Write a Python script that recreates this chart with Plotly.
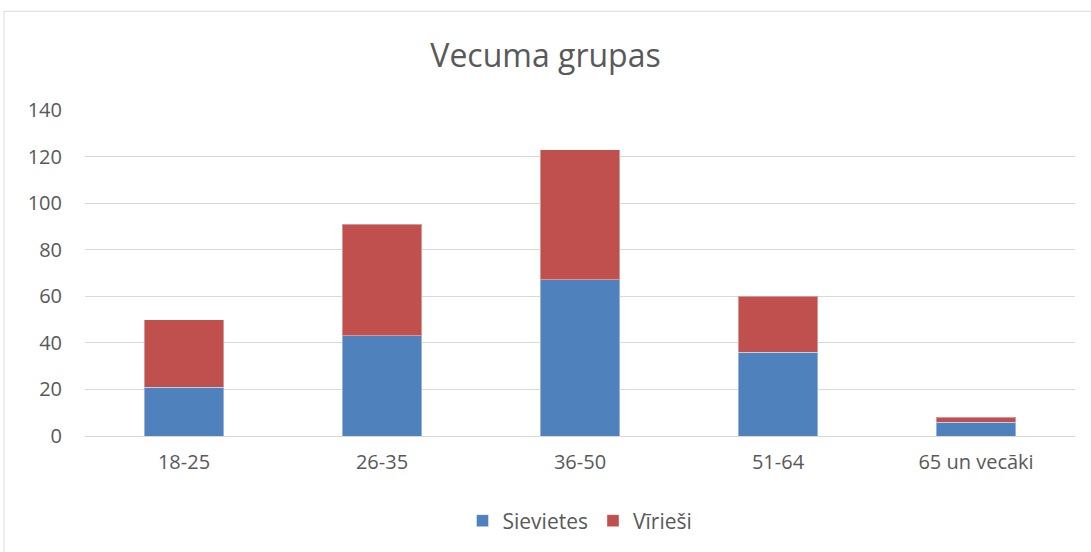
import plotly.graph_objects as go

categories = ["18-25", "26-35", "36-50", "51-64", "65 un vecāki"]
sievietes = [21, 43, 67, 36, 6]
virriesi = [29, 48, 56, 24, 2]
y_ticks = [0, 20, 40, 60, 80, 100, 120, 140]

FONT = "Open Sans"
GREY = "#595959"

fig = go.Figure()
fig.add_trace(go.Bar(x=categories, y=sievietes, name="Sievietes",
                     marker=dict(color="#4F81BD", line=dict(color="rgba(255,255,255,0.4)", width=1)),
                     width=0.4))
fig.add_trace(go.Bar(x=categories, y=virriesi, name="Vīrieši",
                     marker=dict(color="#C0504D", line=dict(color="rgba(255,255,255,0.4)", width=1)),
                     width=0.4))

L, R, T, B = 85, 16, 110, 115
W, H = 1091, 552
pw = W - L - R
ph = H - T - B

def px_to_paper_x(px):
    return (px - L) / pw

def px_to_paper_y(py):
    return (H - B - py) / ph

fig.update_layout(
    width=W, height=H,
    barmode="stack",
    bargap=0.6,
    plot_bgcolor="white",
    paper_bgcolor="white",
    margin=dict(l=L, r=R, t=T, b=B),
    title=dict(text="Vecuma grupas", x=0.5, xanchor="center", y=1 - 56 / H, yanchor="middle",
               font=dict(family=FONT, size=32, color=GREY)),
    font=dict(family=FONT, color=GREY, size=18),
    legend=dict(orientation="h", x=0.5, xanchor="center", y=px_to_paper_y(521), yanchor="middle",
                font=dict(family=FONT, size=21, color=GREY), itemwidth=30, traceorder="normal"),
    shapes=[dict(type="rect", xref="paper", yref="paper",
                 x0=px_to_paper_x(4), x1=px_to_paper_x(W + 10),
                 y0=px_to_paper_y(H + 10), y1=px_to_paper_y(11),
                 line=dict(color="#d9d9d9", width=1), fillcolor="rgba(0,0,0,0)", layer="below")],
)
fig.update_yaxes(range=[0, 140], tickvals=y_ticks, showgrid=True, gridcolor="#d9d9d9", gridwidth=1,
                 zeroline=True, zerolinecolor="#d9d9d9", zerolinewidth=1, showline=False,
                 ticks="", ticklabelstandoff=22, tickfont=dict(size=20, color=GREY))
fig.update_xaxes(showline=True, linecolor="#d9d9d9", linewidth=1, ticks="",
                 tickfont=dict(size=20, color=GREY), ticklabelstandoff=8)

fig.write_html("out.html", config={"displayModeBar": False},
               post_script="document.body.style.margin='0';document.body.style.padding='0';")
